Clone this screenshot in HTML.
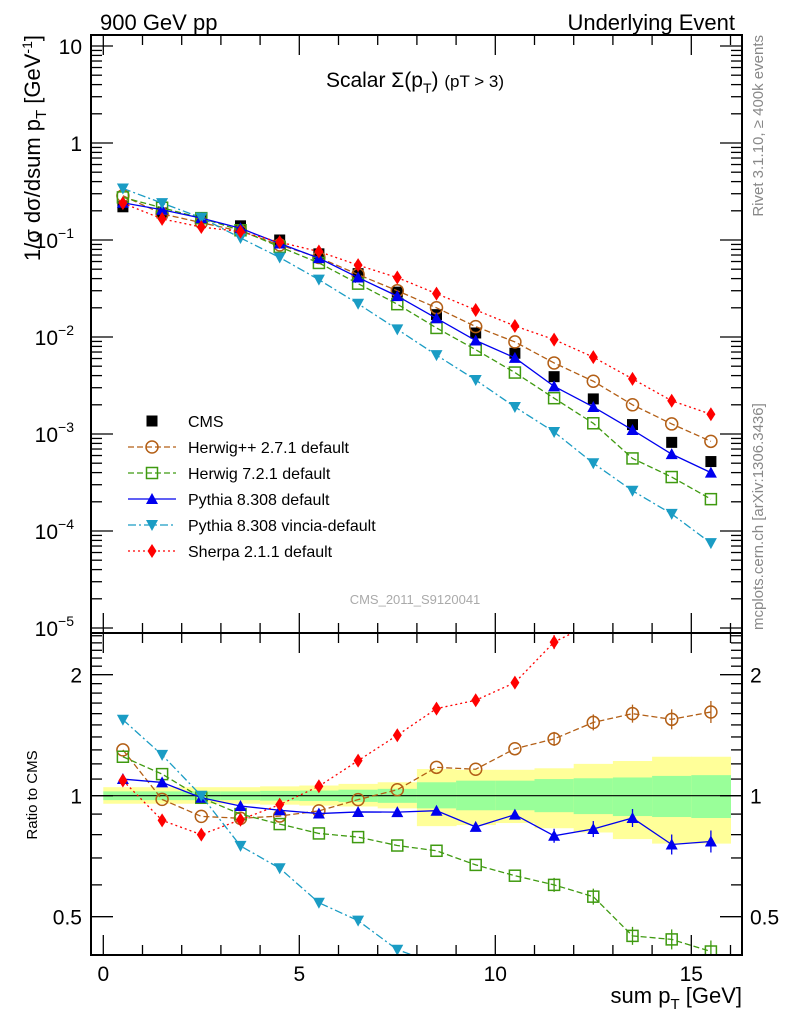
<!DOCTYPE html>
<html><head><meta charset="utf-8"><style>
html,body{margin:0;background:#fff;overflow:hidden;width:786px;height:1024px;}
svg{display:block;font-family:"Liberation Sans",sans-serif;}
</style></head><body>
<svg id="c" width="786" height="1024" viewBox="0 0 786 1024" xmlns="http://www.w3.org/2000/svg">
<defs>
<clipPath id="ct"><rect x="91" y="35" width="651" height="598"/></clipPath>
<clipPath id="cb"><rect x="91" y="633" width="651" height="322"/></clipPath>
</defs>
<text x="100" y="30" font-size="22">900 GeV pp</text>
<text x="735" y="30" font-size="22" text-anchor="end">Underlying Event</text>
<text x="415" y="87" font-size="21" text-anchor="middle">Scalar Σ(p<tspan font-size="14" dy="6">T</tspan><tspan dy="-6">) </tspan><tspan font-size="17">(pT &gt;  3)</tspan></text>
<text x="415" y="604" font-size="13" fill="#aaa" text-anchor="middle">CMS_2011_S9120041</text>
<text transform="translate(763,35) rotate(-90)" font-size="15" fill="#888" text-anchor="end">Rivet 3.1.10, ≥ 400k events</text>
<text transform="translate(763,630) rotate(-90)" font-size="15" fill="#888">mcplots.cern.ch [arXiv:1306.3436]</text>
<text transform="translate(40,35) rotate(-90)" font-size="22" text-anchor="end">1/σ dσ/dsum p<tspan font-size="15" dy="6">T</tspan><tspan dy="-6"> [GeV</tspan><tspan font-size="14" dy="-8">-1</tspan><tspan dy="8">]</tspan></text>
<text transform="translate(37,795) rotate(-90)" font-size="15" text-anchor="middle">Ratio to CMS</text>
<text x="742" y="1003" font-size="22" text-anchor="end">sum p<tspan font-size="15" dy="6">T</tspan><tspan dy="-6"> [GeV]</tspan></text>
<g id="gBand" clip-path="url(#cb)"></g>
<g id="gTop" clip-path="url(#ct)"></g>
<g id="gBot" clip-path="url(#cb)"></g>
<g id="gAx"></g>
<g id="gLeg"></g>
</svg>
<script>
const xCenters=[0.5,1.5,2.5,3.5,4.5,5.5,6.5,7.5,8.5,9.5,10.5,11.5,12.5,13.5,14.5,15.5];
const cmsVals=[0.22,0.19,0.17,0.14,0.10,0.072,0.045,0.029,0.017,0.011,0.0068,0.0039,0.0023,0.00125,0.00082,0.00052];
const herwigppVals=[0.286,0.186,0.151,0.123,0.089,0.066,0.044,0.030,0.020,0.0128,0.0089,0.0054,0.0035,0.0020,0.00127,0.00084];
const herwig7Vals=[0.275,0.215,0.168,0.126,0.085,0.058,0.0355,0.0218,0.0124,0.0074,0.0043,0.00234,0.00129,0.00056,0.00036,0.000213];
const pythiaVals=[0.242,0.205,0.168,0.132,0.092,0.065,0.041,0.0264,0.0156,0.0092,0.0061,0.0031,0.0019,0.0011,0.00062,0.0004];
const vinciaVals=[0.34,0.24,0.17,0.105,0.066,0.039,0.022,0.012,0.0065,0.0036,0.0019,0.00105,0.0005,0.00026,0.00015,0.000075];
const sherpaVals=[0.24,0.165,0.136,0.122,0.095,0.076,0.055,0.041,0.028,0.019,0.013,0.0094,0.0062,0.0037,0.0022,0.0016];
const bandYLo=[0.955,0.955,0.955,0.955,0.95,0.945,0.94,0.93,0.84,0.845,0.855,0.83,0.81,0.78,0.76,0.76];
const bandYHi=[1.05,1.05,1.05,1.05,1.055,1.06,1.07,1.08,1.165,1.16,1.16,1.17,1.2,1.22,1.25,1.25];
const bandGLo=[0.975,0.975,0.975,0.975,0.972,0.97,0.965,0.96,0.93,0.92,0.92,0.91,0.9,0.89,0.885,0.88];
const bandGHi=[1.025,1.025,1.025,1.025,1.028,1.03,1.035,1.04,1.08,1.09,1.09,1.1,1.105,1.11,1.12,1.125];
const xTicks=[0,5,10,15];
const NS="http://www.w3.org/2000/svg";
const X=v=>103.3+v*39.2;
const YT=v=>46-97*Math.log10(v/10);
const YR=r=>795.7-121*Math.log2(r);
function el(tag,attrs,parent){const e=document.createElementNS(NS,tag);for(const k in attrs)e.setAttribute(k,attrs[k]);parent.appendChild(e);return e;}
const gBand=document.getElementById('gBand'),gTop=document.getElementById('gTop'),gBot=document.getElementById('gBot'),gAx=document.getElementById('gAx'),gLeg=document.getElementById('gLeg');
for(let i=0;i<xCenters.length;i++){
 const x0=X(xCenters[i]-0.5),w=39.2+0.5;
 let r=el('rect',{x:x0,y:YR(bandYHi[i]),width:w,height:YR(bandYLo[i])-YR(bandYHi[i]),fill:'#ffff99'},gBand);
 
 
 let g=el('rect',{x:x0,y:YR(bandGHi[i]),width:w,height:YR(bandGLo[i])-YR(bandGHi[i]),fill:'#99ff99'},gBand);
 
 
}
let one=el('line',{x1:91,x2:742,y1:YR(1),y2:YR(1),stroke:'#000','stroke-width':1.2},gBand);


function marker(type,cx,cy,col,parent){
 let m;
 if(type==='sq') m=el('rect',{x:cx-5.5,y:cy-5.5,width:11,height:11,fill:'#000'},parent);
 else if(type==='circ') m=el('circle',{cx:cx,cy:cy,r:6,fill:'none',stroke:col,'stroke-width':1.5},parent);
 else if(type==='osq') m=el('rect',{x:cx-5.5,y:cy-5.5,width:11,height:11,fill:'none',stroke:col,'stroke-width':1.5},parent);
 else if(type==='tu') m=el('polygon',{points:`${cx},${cy-6} ${cx-6},${cy+5} ${cx+6},${cy+5}`,fill:col},parent);
 else if(type==='td') m=el('polygon',{points:`${cx},${cy+6} ${cx-6},${cy-5} ${cx+6},${cy-5}`,fill:col},parent);
 else m=el('polygon',{points:`${cx},${cy-7} ${cx-4.5},${cy} ${cx},${cy+7} ${cx+4.5},${cy}`,fill:col},parent);
 return m;
}
const series=[
 {name:'herwigpp',vals:herwigppVals,col:'#b35f16',dash:'6,3',m:'circ',label:'Herwig++ 2.7.1 default'},
 {name:'herwig7',vals:herwig7Vals,col:'#3f9a10',dash:'6,3',m:'osq',label:'Herwig 7.2.1 default'},
 {name:'pythia',vals:pythiaVals,col:'#0000ee',dash:'',m:'tu',label:'Pythia 8.308 default'},
 {name:'vincia',vals:vinciaVals,col:'#1a9cc4',dash:'8,3,2,3',m:'td',label:'Pythia 8.308 vincia-default'},
 {name:'sherpa',vals:sherpaVals,col:'#ff0000',dash:'2,3',m:'dia',label:'Sherpa 2.1.1 default'}
];
cmsVals.forEach((v,i)=>{
 const m=marker('sq',X(xCenters[i]),YT(v),'#000',gTop);
 
 
});
series.forEach(s=>{
 const ptsT=s.vals.map((v,i)=>X(xCenters[i])+','+YT(v)).join(' ');
 const lt=el('polyline',{points:ptsT,fill:'none',stroke:s.col,'stroke-width':1.3,'stroke-dasharray':s.dash},gTop);
 
 
 const ptsB=s.vals.map((v,i)=>X(xCenters[i])+','+YR(v/cmsVals[i])).join(' ');
 const lb=el('polyline',{points:ptsB,fill:'none',stroke:s.col,'stroke-width':1.3,'stroke-dasharray':s.dash},gBot);
 
 
 s.vals.forEach((v,i)=>{
  const cx=X(xCenters[i]);
  const mt=marker(s.m,cx,YT(v),s.col,gTop);
  
  
  const yr=YR(v/cmsVals[i]);
  if(i>=11){const e=el('line',{x1:cx,x2:cx,y1:yr-4-i+8,y2:yr+4+i-8,stroke:s.col,'stroke-width':1.3},gBot);
   
   }
  const mb=marker(s.m,cx,yr,s.col,gBot);
  
  
 });
});
[[91,35,651,598,'top-panel-frame'],[91,633,651,322,'ratio-panel-frame']].forEach(f=>{
 const r=el('rect',{x:f[0],y:f[1],width:f[2],height:f[3],fill:'none',stroke:'#000','stroke-width':2},gAx);
 
 
});
function tick(x1,y1,x2,y2){el('line',{x1,y1,x2,y2,stroke:'#000','stroke-width':1.3},gAx);}
for(let v=0;v<=16.5;v+=1){const x=X(v);const L=(v%5===0)?20:10;
 tick(x,633,x,633-L);tick(x,633,x,633+L);tick(x,955,x,955-L);tick(x,35,x,35+L);}
xTicks.forEach(v=>{const t=el('text',{x:X(v),y:981,'font-size':21,'text-anchor':'middle'},gAx);t.textContent=v;
 
 });
for(let e=-5;e<=1;e++){for(let k=1;k<10;k++){const v=k*Math.pow(10,e);const y=YT(v);if(y<35||y>633)continue;
 const L=k===1?22:11;tick(91,y,91+L,y);tick(742,y,742-L,y);}}
const ylab=[[10,'10'],[1,'1'],[0.1,'10','−1'],[0.01,'10','−2'],[0.001,'10','−3'],[0.0001,'10','−4'],[0.00001,'10','−5']];
ylab.forEach(a=>{const t=el('text',{x:a[2]?74:82,y:YT(a[0])+8,'font-size':21,'text-anchor':'end'},gAx);
 t.textContent=a[1];if(a[2]){const s=el('tspan',{'font-size':14,dy:-10},t);s.textContent=a[2];}
 
 });
[0.4,0.5,0.6,0.7,0.8,0.9,1,1.1,1.2,1.3,1.4,1.5,1.6,1.7,1.8,1.9,2,2.1,2.2,2.3,2.4,2.5].forEach(r=>{const y=YR(r);if(y<633||y>955)return;
 const L=(r===0.5||r===1||r===2)?22:11;tick(91,y,91+L,y);tick(742,y,742-L,y);});
[[2,'2'],[1,'1'],[0.5,'0.5']].forEach(a=>{
 const t=el('text',{x:82,y:YR(a[0])+8,'font-size':21,'text-anchor':'end'},gAx);t.textContent=a[1];
 
 
 const t2=el('text',{x:750,y:YR(a[0])+8,'font-size':21},gAx);t2.textContent=a[1];
 
 });
const legY=[421,447,473,499,525,551];
const lcms=marker('sq',152,legY[0],'#000',gLeg);


const lt0=el('text',{x:188,y:legY[0]+6,'font-size':16},gLeg);lt0.textContent='CMS';


series.forEach((s,i)=>{const y=legY[i+1];
 const l=el('line',{x1:128,x2:176,y1:y,y2:y,stroke:s.col,'stroke-width':1.3,'stroke-dasharray':s.dash},gLeg);
 
 
 const m=marker(s.m,152,y,s.col,gLeg);
 
 
 const t=el('text',{x:188,y:y+6,'font-size':16},gLeg);t.textContent=s.label;
 
 
});
</script>
</body></html>
